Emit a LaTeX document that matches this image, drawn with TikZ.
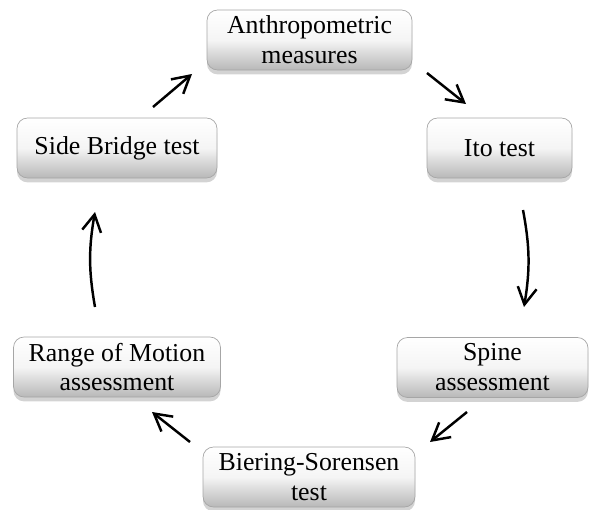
\documentclass[tikz,border=0pt]{standalone}
\usepackage{fontspec}
\setmainfont{Liberation Serif}
\usepackage{tikz}
\usetikzlibrary{shapes,arrows.meta,positioning,calc,shadows}

\begin{document}
\begin{tikzpicture}[
stagebox/.style={
  draw=black!35,
  line width=0.4pt,
  rounded corners=6pt,
  top color=white,
  bottom color=black!28,
  middle color=white!96!black,
  minimum height=1.2cm,
  inner sep=1pt,
  align=center,
  font=\fontsize{14.7}{17}\selectfont,
  drop shadow={opacity=0.35, shadow xshift=0pt, shadow yshift=-2.5pt}
},
cycle/.style={
  line width=1.4pt,
  -{Straight Barb[length=3.4mm, width=3.8mm, line width=1.4pt]}
}
]

% fixed frame of the picture
\useasboundingbox (0,0) rectangle (11.84,10.18);

% ================= STAGES =================
\node[stagebox, minimum width=4.1cm]  (anthro) at (6.19,9.38) {Anthropometric\\measures};
\node[stagebox, minimum width=2.9cm]  (ito)    at (9.99,7.22) {Ito test};
\node[stagebox, minimum width=3.82cm] (spine)  at (9.85,2.83) {Spine\\assessment};
\node[stagebox, minimum width=4.24cm] (bier)   at (6.18,0.64) {Biering-Sorensen\\test};
\node[stagebox, minimum width=4.14cm] (range)  at (2.34,2.84) {Range of Motion\\assessment};
\node[stagebox, minimum width=4.0cm]  (side)   at (2.34,7.22) {Side Bridge test};

% ================= CYCLE ARROWS =================
\draw[cycle] ($(anthro)+(2.35,-0.66)$) -- ($(ito)+(-0.67,0.88)$);
\draw[cycle] ($(ito)+(0.47,-1.24)$) to[bend left=10] ($(spine)+(0.63,1.21)$);
\draw[cycle] ($(spine)+(-0.51,-0.89)$) -- ($(bier)+(2.42,0.70)$);
\draw[cycle] ($(bier)+(-2.38,0.70)$) -- ($(range)+(0.70,-0.90)$);
\draw[cycle] ($(range)+(-0.44,1.20)$) to[bend left=10] ($(side)+(-0.44,-1.28)$);
\draw[cycle] ($(side)+(0.72,0.82)$) -- ($(anthro)+(-2.35,-0.68)$);

\end{tikzpicture}
\end{document}
